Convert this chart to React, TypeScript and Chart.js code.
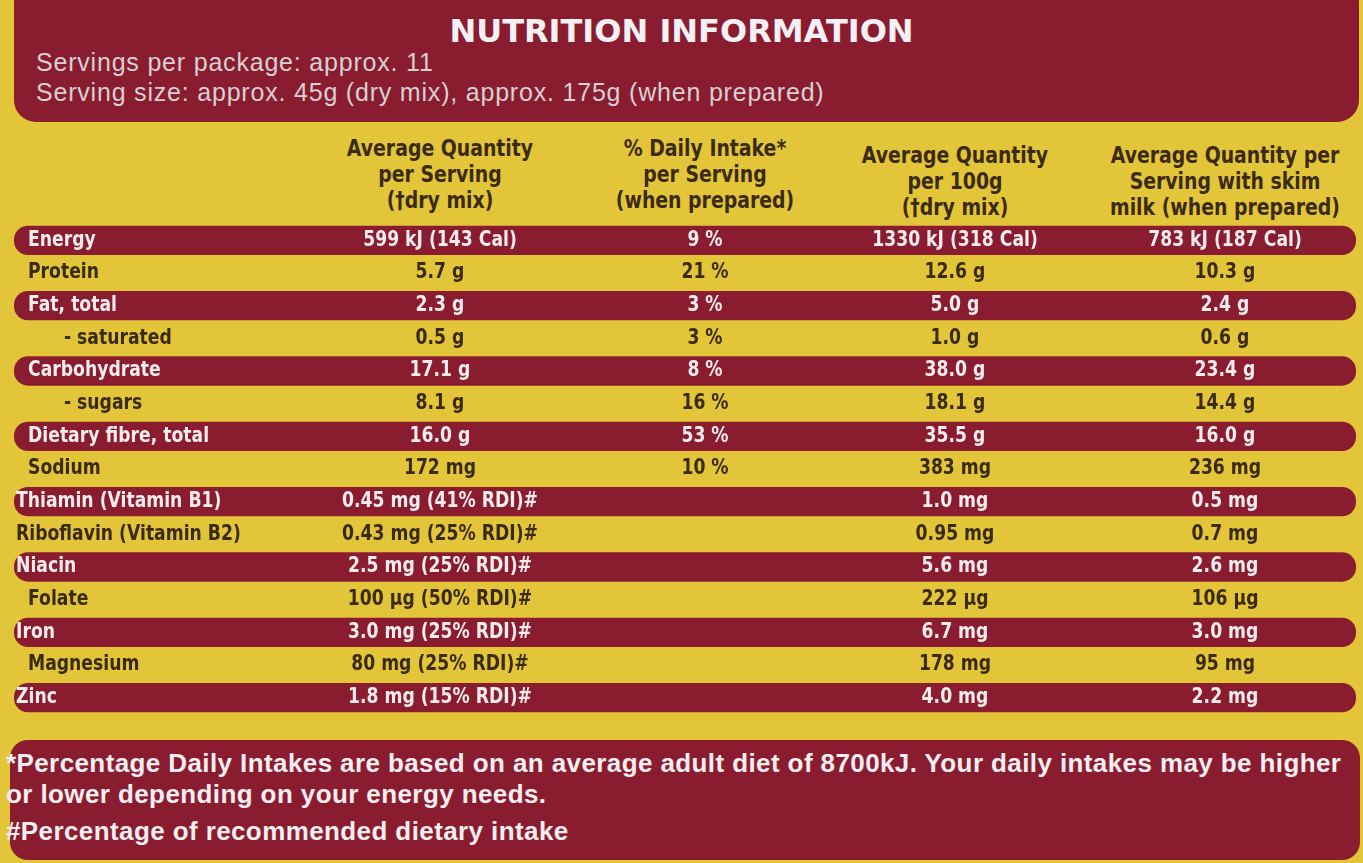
import React, { useEffect, useRef } from "react";
import { Chart, registerables } from "chart.js";
Chart.register(...registerables);

const nutrients = ["Energy","Protein","Fat, total","  - saturated","Carbohydrate","  - sugars","Dietary fibre, total","Sodium","Thiamin (Vitamin B1)","Riboflavin (Vitamin B2)","Niacin","Folate","Iron","Magnesium","Zinc"];
const perServing = ["599 kJ (143 Cal)","5.7 g","2.3 g","0.5 g","17.1 g","8.1 g","16.0 g","172 mg","0.45 mg (41% RDI)#","0.43 mg (25% RDI)#","2.5 mg (25% RDI)#","100 µg (50% RDI)#","3.0 mg (25% RDI)#","80 mg (25% RDI)#","1.8 mg (15% RDI)#"];
const dailyIntake = ["9 %","21 %","3 %","3 %","8 %","16 %","53 %","10 %","","","","","","",""];
const per100g = ["1330 kJ (318 Cal)","12.6 g","5.0 g","1.0 g","38.0 g","18.1 g","35.5 g","383 mg","1.0 mg","0.95 mg","5.6 mg","222 µg","6.7 mg","178 mg","4.0 mg"];
const perServingSkim = ["783 kJ (187 Cal)","10.3 g","2.4 g","0.6 g","23.4 g","14.4 g","16.0 g","236 mg","0.5 mg","0.7 mg","2.6 mg","106 µg","3.0 mg","95 mg","2.2 mg"];
const bandFlags = [1,0,1,0,1,0,1,0,1,0,1,0,1,0,1];
const columnHeaders = [["Average Quantity","per Serving","(†dry mix)"],["% Daily Intake*","per Serving","(when prepared)"],["Average Quantity","per 100g","(†dry mix)"],["Average Quantity per","Serving with skim","milk (when prepared)"]];

const MAROON = "#8a1c30";
const YELLOW = "#e3c53a";
const DARK = "#3b2a14";
const FONT = "'DejaVu Sans',sans-serif";
const colX = [440, 705, 955, 1225];
const SX = 0.82;

export default function App() {
  const ref = useRef<HTMLCanvasElement>(null);
  useEffect(() => {
    document.body.style.margin = "0";
    const textPlugin = {
      id: "tableText",
      afterDatasetsDraw(chart: any) {
        const ctx = chart.ctx;
        const ys = chart.scales.y;
        ctx.save();
        ctx.scale(SX, 1);
        ctx.textBaseline = "middle";
        ctx.font = `bold 21px ${FONT}`;
        nutrients.forEach((n, i) => {
          const y = ys.getPixelForValue(i);
          ctx.fillStyle = bandFlags[i] ? "#f4ecec" : DARK;
          ctx.textAlign = "left";
          const lbl = n.trim().startsWith("-") ? "      " + n.trim() : n;
          ctx.fillText(lbl, (i === 8 || i === 9 || i === 10 || i === 12 || i === 14 ? 2 : 14) / SX, y);
          ctx.textAlign = "center";
          const vals = [perServing[i], dailyIntake[i], per100g[i], perServingSkim[i]];
          vals.forEach((v, c) => ctx.fillText(v, (colX[c] - 14) / SX, y));
        });
        ctx.restore();
      },
    };
    const chart = new Chart(ref.current!, {
      type: "bar",
      data: {
        labels: nutrients,
        datasets: [{
          data: bandFlags,
          backgroundColor: MAROON,
          borderRadius: 14,
          borderSkipped: false,
          barPercentage: 1,
          categoryPercentage: 0.9,
        }],
      },
      options: {
        indexAxis: "y",
        animation: false,
        responsive: false,
        maintainAspectRatio: false,
        layout: { padding: 0 },
        plugins: { legend: { display: false }, tooltip: { enabled: false } },
        scales: {
          x: { display: false, min: 0, max: 1 },
          y: { display: false },
        },
      },
      plugins: [textPlugin],
    });
    return () => chart.destroy();
  }, []);

  const cond = { transform: `scaleX(${SX})`, transformOrigin: "center top" } as const;

  return (
    <div style={{ position: "relative", width: 1363, height: 863, background: YELLOW, overflow: "hidden", fontFamily: FONT }}>
      <div style={{ position: "absolute", left: 14, top: -20, width: 1345, height: 142, background: MAROON, borderRadius: 22 }} />
      <div style={{ position: "absolute", left: 0, width: 1363, top: 12, textAlign: "center", color: "#f4f0f4", fontFamily: "'DejaVu Sans',sans-serif", fontWeight: "bold", fontSize: 32 }}>NUTRITION INFORMATION</div>
      <div style={{ position: "absolute", left: 36, top: 47, color: "#d8d0d2", fontFamily: "'Liberation Sans',sans-serif", fontSize: 25, lineHeight: "30px", letterSpacing: 0.8 }}>
        <div>Servings per package: approx. 11</div>
        <div>Serving size: approx. 45g (dry mix), approx. 175g (when prepared)</div>
      </div>
      {columnHeaders.map((h, c) => (
        <div key={c} style={{ position: "absolute", left: colX[c] - 150, width: 300, top: c >= 2 ? 142 : 135, textAlign: "center", color: DARK, fontWeight: "bold", fontSize: 23, lineHeight: "26px", ...cond }}>
          {h.map((l, k) => <div key={k}>{l}</div>)}
        </div>
      ))}
      <canvas ref={ref} width={1342} height={490} style={{ position: "absolute", left: 14, top: 224 }} />
      <div style={{ position: "absolute", left: 10, top: 740, width: 1350, height: 120, background: MAROON, borderRadius: 18 }} />
      <div style={{ position: "absolute", left: 6, top: 748, color: "#f4eef0", fontFamily: "'Liberation Sans',sans-serif", fontSize: 26, lineHeight: "31px", fontWeight: "bold", letterSpacing: 0.4 }}>
        <div>*Percentage Daily Intakes are based on an average adult diet of 8700kJ. Your daily intakes may be higher</div>
        <div>or lower depending on your energy needs.</div>
        <div style={{ marginTop: 6 }}>#Percentage of recommended dietary intake</div>
      </div>
    </div>
  );
}
